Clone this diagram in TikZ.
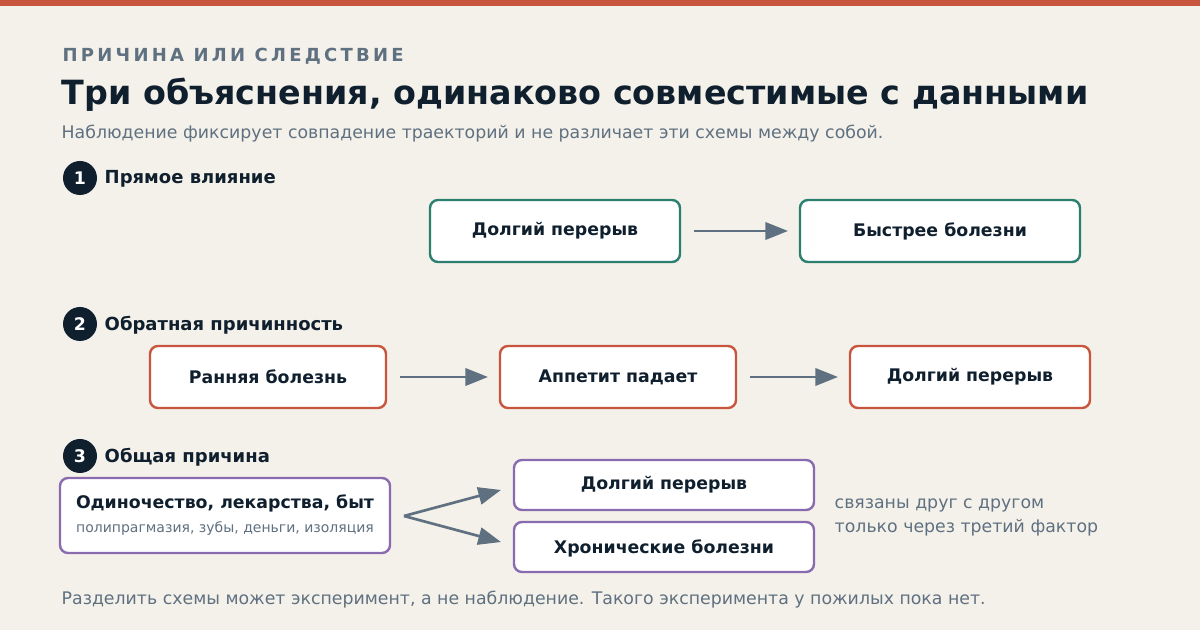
\documentclass[tikz,border=0pt]{standalone}
\usepackage{fontspec}
\setmainfont{DejaVu Sans}
\usetikzlibrary{arrows.meta}
\definecolor{bg}{HTML}{F4F1EA}
\definecolor{bar}{HTML}{C8553D}
\definecolor{teal}{HTML}{2A7F6F}
\definecolor{rd}{HTML}{C8553D}
\definecolor{pu}{HTML}{8A6BB0}
\definecolor{dk}{HTML}{0F1F2D}
\definecolor{gr}{HTML}{5F7080}
\begin{document}
\begin{tikzpicture}[x=0.75pt,y=-0.75pt,
 box/.style={draw=#1,line width=1.8pt,fill=white,rounded corners=6pt},
 bt/.style={font=\fontsize{13}{15}\selectfont\bfseries,text=dk},
 arr/.style={draw=gr,line width=2pt,-{Triangle[length=17pt,width=13pt]}},
 num/.style={circle,fill=dk,minimum size=25.5pt,inner sep=0pt,text=white,font=\fontsize{13}{15}\selectfont\bfseries},
 lab/.style={anchor=west,text=dk,font=\fontsize{13.5}{15}\selectfont\bfseries},
 gt/.style={anchor=west,text=gr,font=\fontsize{13}{15}\selectfont}]
\fill[bg] (0,0) rectangle (1200,630);
\useasboundingbox (0,0) rectangle (1200,630);
\fill[bar] (0,0) rectangle (1200,6);
\node[anchor=west,text=gr,font=\fontsize{13.5}{15}\selectfont\bfseries\addfontfeatures{LetterSpace=18}] (h) at (58,56) {ПРИЧИНА ИЛИ СЛЕДСТВИЕ};
\node[anchor=west,text=dk,font=\fontsize{25}{28}\selectfont\bfseries] (t) at (57,95) {Три объяснения, одинаково совместимые с данными};
\node[gt] (s) at (57,134) {Наблюдение фиксирует совпадение траекторий и не различает эти схемы между собой.};
% row1
\node[num] (n1) at (80,178) {1};
\node[lab] (l1) at (100,179) {Прямое влияние};
\draw[box=teal] (430,200) rectangle (680,262); \node[bt] (a1) at (555,231) {Долгий перерыв};
\draw[box=teal] (800,200) rectangle (1080,262); \node[bt] (b1) at (940,231) {Быстрее болезни};
\coordinate (a1e) at (694,231); \coordinate (b1w) at (788,231);
\draw[arr] (a1e) -- (b1w);
% row2
\node[num] (n2) at (80,324) {2};
\node[lab] (l2) at (100,325) {Обратная причинность};
\draw[box=rd] (150,346) rectangle (386,408); \node[bt] (a2) at (268,377) {Ранняя болезнь};
\draw[box=rd] (500,346) rectangle (736,408); \node[bt] (b2) at (618,377) {Аппетит падает};
\draw[box=rd] (850,346) rectangle (1090,408); \node[bt] (c2) at (970,377) {Долгий перерыв};
\coordinate (p1) at (400,377); \coordinate (p2) at (488,377);
\coordinate (p3) at (750,377); \coordinate (p4) at (838,377);
\draw[arr] (p1) -- (p2); \draw[arr] (p3) -- (p4);
% row3
\node[num] (n3) at (80,456) {3};
\node[lab] (l3) at (100,457) {Общая причина};
\draw[box=pu] (60,478) rectangle (390,553);
\node[bt] (c3) at (225,503) {Одиночество, лекарства, быт};
\node[text=gr,font=\fontsize{10.5}{12}\selectfont] (c3s) at (225,529) {полипрагмазия, зубы, деньги, изоляция};
\draw[box=pu] (514,460) rectangle (814,510); \node[bt] (d3) at (664,485) {Долгий перерыв};
\draw[box=pu] (514,522) rectangle (814,572); \node[bt] (e3) at (664,548) {Хронические болезни};
\coordinate (o) at (404,516); \coordinate (q1) at (501,490); \coordinate (q2) at (501,542);
\draw[arr] (o) -- (q1); \draw[arr] (o) -- (q2);
\node[gt] (x1) at (830,505) {связаны друг с другом};
\node[gt] (x2) at (830,528) {только через третий фактор};
\node[gt] (f) at (57,600) {Разделить схемы может эксперимент, а не наблюдение. Такого эксперимента у пожилых пока нет.};
\end{tikzpicture}
\end{document}
